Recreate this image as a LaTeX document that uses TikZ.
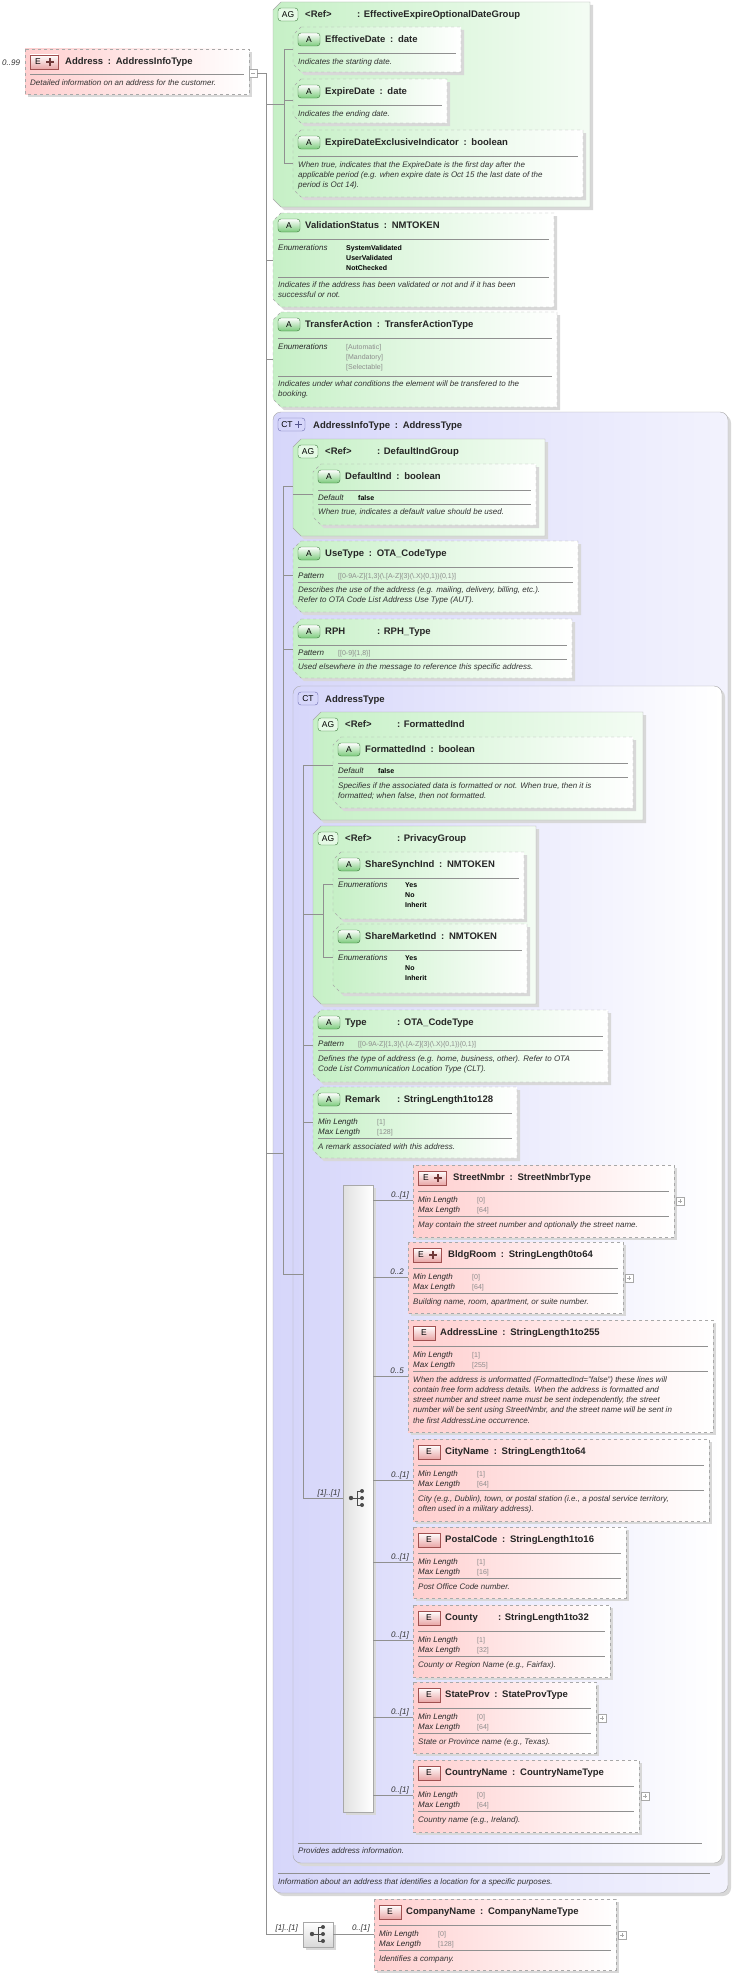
\documentclass[tikz,border=0pt]{standalone}
\usepackage{fontspec}
\setmainfont{Liberation Sans}
\definecolor{agr}{HTML}{C6F0C6}
\definecolor{agg}{HTML}{D2F5D2}
\definecolor{agb}{HTML}{7CCB7C}
\definecolor{agd}{HTML}{3C7A3C}
\definecolor{epk}{HTML}{FFCFCF}
\definecolor{ebd}{HTML}{E08080}
\definecolor{edk}{HTML}{A05050}
\definecolor{ctl}{HTML}{D6D6FA}
\definecolor{ctd}{HTML}{6A6AB0}
\definecolor{bd}{HTML}{A8A8A8}
\definecolor{shd}{HTML}{D8D8D8}
\definecolor{ln}{HTML}{909090}
\tikzset{
 ttl/.style={font=\fontsize{9.5}{11}\selectfont\bfseries,text=black!85,anchor=base west,inner sep=0},
 dsc/.style={font=\fontsize{8}{10.3}\selectfont\itshape,text=black!80,anchor=base west,inner sep=0},
 lab/.style={font=\fontsize{8}{10}\selectfont\itshape,text=black!85,anchor=base west,inner sep=0},
 enm/.style={font=\fontsize{7}{10.3}\selectfont\bfseries,anchor=base west,inner sep=0},
 gv/.style={font=\fontsize{7}{10.3}\selectfont,text=black!45,anchor=base west,inner sep=0},
 card/.style={font=\fontsize{8}{10}\selectfont\itshape,text=black!80,anchor=base east,inner sep=0},
 bl/.style={font=\fontsize{8.5}{10}\selectfont,inner sep=0},
 hl/.style={draw=ln,line width=0.6pt},
 conn/.style={draw=ln,line width=0.7pt},
}
\newcommand\ML[1]{\begin{tabular}[t]{@{}l@{}}#1\end{tabular}}
\newcommand\Chm[5]{\path[#1] ({#2+8},{#3}) -- ({#4},{#3}) -- ({#4},{#5}) -- ({#2+8},{#5}) -- ({#2},{#5-8}) -- ({#2},{#3+8}) -- cycle;}
\newcommand\HL[3]{\draw[hl] ({#1+5},{#3}) -- ({#2-5},{#3});}
\newcommand\BA[2]{\path[top color=white,bottom color=agb,draw=agd,rounded corners=3] ({#1+5},{#2+6}) rectangle ({#1+27},{#2+19}); \node[bl] at ({#1+16},{#2+12.5}) {A};}
\newcommand\BAG[2]{\path[fill=agg!60,draw=agd,rounded corners=3] ({#1+5},{#2+6}) rectangle ({#1+25},{#2+19}); \node[bl] at ({#1+15},{#2+12.5}) {AG};}
\newcommand\BE[2]{\path[top color=white,bottom color=ebd!70,draw=edk] ({#1+5},{#2+6}) rectangle ({#1+27},{#2+20}); \node[bl] at ({#1+16},{#2+13}) {E};}
\newcommand\BEP[2]{\path[top color=white,bottom color=ebd!70,draw=edk] ({#1+5},{#2+6}) rectangle ({#1+33},{#2+20}); \node[bl] at ({#1+13},{#2+13}) {E};
 \draw[edk!70!black,line width=1.6pt] ({#1+21},{#2+13}) -- ({#1+29},{#2+13}) ({#1+25},{#2+9}) -- ({#1+25},{#2+17});}
\newcommand\Abox[5]{\Chm{fill=shd}{#1+3}{#2+3}{#3+3}{#4+3}
 \Chm{left color=agr,right color=white,draw=bd,dashed}{#1}{#2}{#3}{#4}
 \BA{#1}{#2}\node[ttl] at ({#1+32},{#2+15.5}) {#5}; \HL{#1}{#3}{#2+26}}
\newcommand\AGbox[5]{\Chm{fill=shd}{#1+3}{#2+3}{#3+3}{#4+3}
 \Chm{left color=agr,right color=agg!25,draw=bd}{#1}{#2}{#3}{#4}
 \BAG{#1}{#2}\node[ttl] at ({#1+32},{#2+15.5}) {\makebox[52pt][l]{<Ref>}#5};}
\newcommand\Ebox[6]{\fill[shd] ({#1+3},{#2+3}) rectangle ({#3+3},{#4+3});
 \path[left color=epk,right color=white,draw=bd,dashed] (#1,#2) rectangle (#3,#4);
 \ifnum#6=1 \BEP{#1}{#2}\node[ttl] at ({#1+40},{#2+15.5}) {#5};\else \BE{#1}{#2}\node[ttl] at ({#1+32},{#2+15.5}) {#5};\fi
 \HL{#1}{#3}{#2+26}}
\newcommand\PlusB[2]{\draw[bd,fill=white] (#1,#2) rectangle ({#1+8},{#2+8}); \draw[bd] ({#1+2},{#2+4}) -- ({#1+6},{#2+4}) ({#1+4},{#2+2}) -- ({#1+4},{#2+6});}
\newcommand\MinMax[4]{\node[lab] at ({#1+5},{#2+37}) {Min Length}; \node[gv] at ({#1+64},{#2+37}) {[#3]};
 \node[lab] at ({#1+5},{#2+47}) {Max Length}; \node[gv] at ({#1+64},{#2+47}) {[#4]};}
\newcommand\Seqicon[2]{\fill[black!70] ({#1-7},#2) circle (2.2); \draw[black!70,line width=0.8pt] ({#1-7},#2) -- ({#1-1},#2) ({#1-1},{#2-7}) -- ({#1-1},{#2+7}) ({#1-1},{#2-7}) -- ({#1+4},{#2-7}) ({#1-1},#2) -- ({#1+4},#2) ({#1-1},{#2+7}) -- ({#1+4},{#2+7});
 \fill[black!70] ({#1+4},{#2-7}) circle (2) ({#1+4},#2) circle (2) ({#1+4},{#2+7}) circle (2);}
\newcommand\cc{\enspace:\enspace}
\begin{document}
\begin{tikzpicture}[x=1pt,y=-1pt]
\useasboundingbox[fill=white] (0,0) rectangle (733,1975);
% ---------- Address
\node[card,anchor=base west] at (2,66) {0..99};
\fill[shd] (28,52) rectangle (252,97);
\path[left color=epk,right color=white,draw=bd,dashed] (25,49) rectangle (249,94);
\BEP{25}{49}\node[ttl] at (65,64.5) {Address\cc AddressInfoType};
\HL{25}{249}{74}
\node[dsc] at (30,85.5) {Detailed information on an address for the customer.};
\draw[bd,fill=white] (249,69) rectangle (257,77); \draw[bd] (251,73) -- (255,73);
% ---------- AG EffectiveExpire
\AGbox{273}{2}{590}{207}{: EffectiveExpireOptionalDateGroup}
\Abox{293}{27}{461}{72}{EffectiveDate\cc date}
\node[dsc] at (298,64) {Indicates the starting date.};
\Abox{293}{79}{447}{123}{ExpireDate\cc date}
\node[dsc] at (298,116) {Indicates the ending date.};
\Abox{293}{130}{583}{197}{ExpireDateExclusiveIndicator\cc boolean}
\node[dsc] at (298,167) {\ML{When true, indicates that the ExpireDate is the first day after the\\applicable period (e.g. when expire date is Oct 15  the last date of the\\period is Oct 14).}};
% ---------- ValidationStatus
\Abox{273}{213}{554}{307}{ValidationStatus\cc NMTOKEN}
\node[lab] at (278,250) {Enumerations};
\node[enm] at (346,250) {\ML{SystemValidated\\UserValidated\\NotChecked}};
\HL{273}{554}{277}
\node[dsc] at (278,287) {\ML{Indicates if the address has been validated or not and if it has been\\successful or not.}};
% ---------- TransferAction
\Abox{273}{312}{557}{407}{TransferAction\cc TransferActionType}
\node[lab] at (278,349) {Enumerations};
\node[gv] at (346,349) {\ML{[Automatic]\\{}[Mandatory]\\{}[Selectable]}};
\HL{273}{557}{376}
\node[dsc] at (278,386) {\ML{Indicates under what conditions the element will be transfered to the\\booking.}};
% ---------- CT AddressInfoType
\fill[shd,rounded corners=8] (276,415) rectangle (731,1896);
\path[left color=ctl,right color=ctl!30,draw=bd,rounded corners=8] (273,412) rectangle (728,1893);
\path[fill=ctl,draw=ctd,rounded corners=3] (278,418) rectangle (305,431); \node[bl] at (287,424.5) {CT};
\draw[ctd!80!black,line width=1.5pt] (295,424.5) -- (302,424.5) (298.5,421) -- (298.5,428);
\node[ttl] at (313,428.5) {AddressInfoType\cc AddressType};
\draw[hl] (278,1873) -- (710,1873);
\node[dsc] at (278,1884) {Information about an address that identifies a location for a specific purposes.};
% DefaultIndGroup
\AGbox{293}{439}{545}{536}{: DefaultIndGroup}
\Abox{313}{464}{536}{525}{DefaultInd\cc boolean}
\node[lab] at (318,500) {Default}; \node[enm] at (358,500) {false};
\HL{313}{536}{504}
\node[dsc] at (318,514) {When true, indicates a default value should be used.};
% UseType
\Abox{293}{541}{578}{612}{UseType\cc OTA\_CodeType}
\node[lab] at (298,578) {Pattern}; \node[gv] at (338,578) {[[0-9A-Z]\{1,3\}(\textbackslash.[A-Z]\{3\}(\textbackslash.X)\{0,1\})\{0,1\}]};
\HL{293}{578}{582}
\node[dsc] at (298,592) {\ML{Describes the use of the address (e.g. mailing, delivery, billing, etc.).\\Refer to OTA Code List Address Use Type (AUT).}};
% RPH
\Abox{293}{619}{572}{678}{\makebox[52pt][l]{RPH}: RPH\_Type}
\node[lab] at (298,655) {Pattern}; \node[gv] at (338,655) {[[0-9]\{1,8\}]};
\HL{293}{572}{659}
\node[dsc] at (298,669) {Used elsewhere in the message to reference this specific address.};
% ---------- CT AddressType
\fill[shd,rounded corners=8] (296,689) rectangle (725,1866);
\path[left color=ctl,right color=white,draw=bd,rounded corners=8] (293,686) rectangle (722,1863);
\path[fill=ctl,draw=ctd,rounded corners=3] (298,692) rectangle (318,705); \node[bl] at (308,698.5) {CT};
\node[ttl] at (325,702) {AddressType};
\draw[hl] (298,1843) -- (702,1843);
\node[dsc] at (298,1853) {Provides address information.};
% FormattedInd
\AGbox{313}{712}{643}{820}{: FormattedInd}
\Abox{333}{737}{633}{808}{FormattedInd\cc boolean}
\node[lab] at (338,773) {Default}; \node[enm] at (378,773) {false};
\HL{333}{633}{777}
\node[dsc] at (338,788) {\ML{Specifies if the associated data is formatted or not.  When true, then it is\\formatted; when false, then not formatted.}};
% PrivacyGroup
\AGbox{313}{826}{536}{1004}{: PrivacyGroup}
\Abox{333}{852}{524}{919}{ShareSynchInd\cc NMTOKEN}
\node[lab] at (338,887) {Enumerations}; \node[enm] at (405,887) {\ML{Yes\\No\\Inherit}};
\Abox{333}{924}{527}{993}{ShareMarketInd\cc NMTOKEN}
\node[lab] at (338,960) {Enumerations}; \node[enm] at (405,960) {\ML{Yes\\No\\Inherit}};
% Type
\Abox{313}{1010}{608}{1082}{\makebox[52pt][l]{Type}: OTA\_CodeType}
\node[lab] at (318,1046) {Pattern}; \node[gv] at (358,1046) {[[0-9A-Z]\{1,3\}(\textbackslash.[A-Z]\{3\}(\textbackslash.X)\{0,1\})\{0,1\}]};
\HL{313}{608}{1050}
\node[dsc] at (318,1061) {\ML{Defines the type of address (e.g. home, business, other). Refer to OTA\\Code List Communication Location Type (CLT).}};
% Remark
\Abox{313}{1087}{517}{1158}{\makebox[52pt][l]{Remark}: StringLength1to128}
\MinMax{313}{1087}{1}{128}
\HL{313}{517}{1138}
\node[dsc] at (318,1149) {A remark associated with this address.};
% ---------- sequence bar
\fill[shd] (346,1188) rectangle (376,1815);
\path[left color=black!12,right color=white,draw=bd] (343,1185) rectangle (373,1812);
\Seqicon{358}{1498}
% elements
\Ebox{413}{1165}{674}{1237}{StreetNmbr\cc StreetNmbrType}{1}
\MinMax{413}{1165}{0}{64}\HL{413}{674}{1216}
\node[dsc] at (418,1227) {May contain the street number and optionally the street name.};
\PlusB{676}{1197}
\Ebox{408}{1242}{623}{1313}{BldgRoom\cc StringLength0to64}{1}
\MinMax{408}{1242}{0}{64}\HL{408}{623}{1293}
\node[dsc] at (413,1304) {Building name, room, apartment, or suite number.};
\PlusB{625}{1274}
\Ebox{408}{1320}{713}{1432}{AddressLine\cc StringLength1to255}{0}
\MinMax{408}{1320}{1}{255}\HL{408}{713}{1371}
\node[dsc] at (413,1382) {\ML{When the address is unformatted (FormattedInd="false") these lines will\\contain free form address details. When the address is formatted and\\street number and street name must be sent independently, the street\\number will be sent using StreetNmbr, and the street name will be sent in\\the first AddressLine occurrence.}};
\Ebox{413}{1439}{709}{1521}{CityName\cc StringLength1to64}{0}
\MinMax{413}{1439}{1}{64}\HL{413}{709}{1490}
\node[dsc] at (418,1501) {\ML{City (e.g., Dublin), town, or postal station (i.e., a postal service territory,\\often used in a military address).}};
\Ebox{413}{1527}{626}{1598}{PostalCode\cc StringLength1to16}{0}
\MinMax{413}{1527}{1}{16}\HL{413}{626}{1578}
\node[dsc] at (418,1589) {Post Office Code number.};
\Ebox{413}{1605}{610}{1677}{\makebox[53pt][l]{County}: StringLength1to32}{0}
\MinMax{413}{1605}{1}{32}\HL{413}{610}{1656}
\node[dsc] at (418,1667) {County or Region Name (e.g., Fairfax).};
\Ebox{413}{1682}{596}{1753}{StateProv\cc StateProvType}{0}
\MinMax{413}{1682}{0}{64}\HL{413}{596}{1733}
\node[dsc] at (418,1744) {State or Province name (e.g., Texas).};
\PlusB{598}{1714}
\Ebox{413}{1760}{639}{1832}{CountryName\cc CountryNameType}{0}
\MinMax{413}{1760}{0}{64}\HL{413}{639}{1811}
\node[dsc] at (418,1822) {Country name (e.g., Ireland).};
\PlusB{641}{1792}
% ---------- bottom choice + CompanyName
\fill[shd] (306,1925) rectangle (336,1950);
\path[top color=white,bottom color=black!15,draw=bd] (303,1922) rectangle (333,1947);
\Seqicon{319}{1934}
\Ebox{374}{1899}{616}{1970}{CompanyName\cc CompanyNameType}{0}
\MinMax{374}{1899}{0}{128}\HL{374}{616}{1950}
\node[dsc] at (379,1961) {Identifies a company.};
\PlusB{618}{1931}
% ---------- connectors
\coordinate (aOut) at (257,73);
\coordinate (sTop) at (266,73);
\coordinate (sBot) at (266,1934);
\coordinate (ch) at (303,1934);
\draw[conn] (aOut) -- (sTop) -- (sBot) -- (ch);
\coordinate (chR) at (333,1934); \coordinate (cmp) at (374,1934);
\draw[conn] (chR) -- (cmp);
\node[card] at (298,1930) {[1]..[1]};
\node[card] at (370,1930) {0..[1]};
\foreach \y/\t in {104/284,260/273,359/273,1153/283}{\draw[conn] (266,\y) coordinate (s\y) -- (\t,\y) coordinate (t\y);}
\coordinate (g1a) at (284,49); \coordinate (g1b) at (284,163);
\draw[conn] (g1a) -- (g1b);
\foreach \y in {49,100,163}{\draw[conn] (284,\y) -- (293,\y);}
\coordinate (i1a) at (283,486); \coordinate (i1b) at (283,1274); \coordinate (i2b) at (303,1274);
\draw[conn] (i1a) -- (i1b) -- (i2b);
\foreach \y in {486,575,649}{\draw[conn] (283,\y) -- (293,\y);}
\draw[conn] (293,494) -- (313,494);
\coordinate (i2a) at (303,765); \coordinate (i2c) at (303,1498); \coordinate (sq) at (343,1498);
\draw[conn] (i2a) -- (i2c) -- (sq);
\node[card] at (340,1495) {[1]..[1]};
\draw[conn] (i2a) -- (333,765);
\draw[conn] (303,914) -- (323,914);
\coordinate (pa) at (323,884); \coordinate (pb) at (323,957);
\draw[conn] (pa) -- (pb);
\draw[conn] (pa) -- (333,884); \draw[conn] (pb) -- (333,957);
\draw[conn] (303,1045) -- (313,1045);
\draw[conn] (303,1122) -- (313,1122);
\foreach \y/\x/\c in {1200/413/0..[1],1277/408/0..2,1376/408/0..5,1480/413/0..[1],1562/413/0..[1],1640/413/0..[1],1717/413/0..[1],1795/413/0..[1]}{
 \draw[conn] (373,\y) -- (\x,\y);
 \node[card] at ({\x-4},{\y-3}) {\c};}
\end{tikzpicture}
\end{document}
